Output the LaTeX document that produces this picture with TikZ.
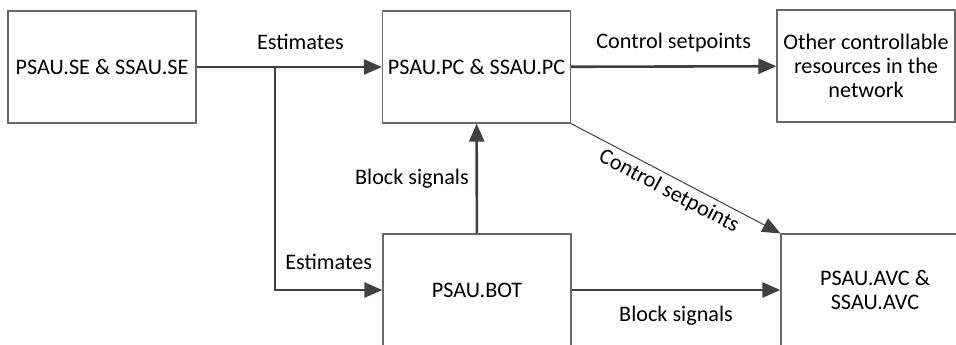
\documentclass[tikz,border=0pt]{standalone}
\usepackage{fontspec}
\setmainfont{Carlito}
\usetikzlibrary{arrows.meta}
\definecolor{arrowgray}{RGB}{64,64,64}
\definecolor{boxgray}{RGB}{105,105,105}
\tikzstyle{blockb}=[draw=boxgray,line width=0.6pt,rectangle,minimum width=94pt,minimum height=56pt,inner sep=2pt,align=center]
\tikzstyle{flowb}=[draw=arrowgray,line width=1.3pt,-{Triangle[length=9pt,width=7.5pt]}]
\tikzstyle{thinflowb}=[draw=arrowgray,line width=0.5pt,-{Triangle[length=9pt,width=7.5pt]}]

\begin{document}
\begin{tikzpicture}[x=0.5pt,y=-0.5pt,font=\fontsize{11.1}{12}\selectfont]
    \useasboundingbox (0,0) rectangle (956,344);
    \node[blockb] (se) at (102,67) {PSAU.SE \& SSAU.SE};
    \node[blockb] (pc) at (476.5,67) {PSAU.PC \& SSAU.PC};
    \node[blockb,minimum width=89pt] (other) at (866,66) {Other controllable\\resources in the\\network};
    \node[blockb] (bot) at (477,290) {PSAU.BOT};
    \node[blockb] (avc) at (875,290) {PSAU.AVC \&\\SSAU.AVC};
    \coordinate (split) at (275,67);

    \draw[flowb] (se) -- (pc) node[pos=0.56,above=4.5pt] {Estimates};
    \draw[flowb] (split) |- (bot) node[pos=0.75,above=6pt] {Estimates};
    \draw[flowb] (bot) -- (pc) node[midway,left] {Block signals};
    \draw[flowb] (pc) -- (other) node[midway,above=3pt] {Control setpoints};
    \draw[flowb] (bot) -- (avc) node[midway,below=4pt] {Block signals};
    \draw[thinflowb] (pc.south east) -- (avc.north west) node[midway,below=-1pt,sloped] {Control setpoints};
\end{tikzpicture}
\end{document}
